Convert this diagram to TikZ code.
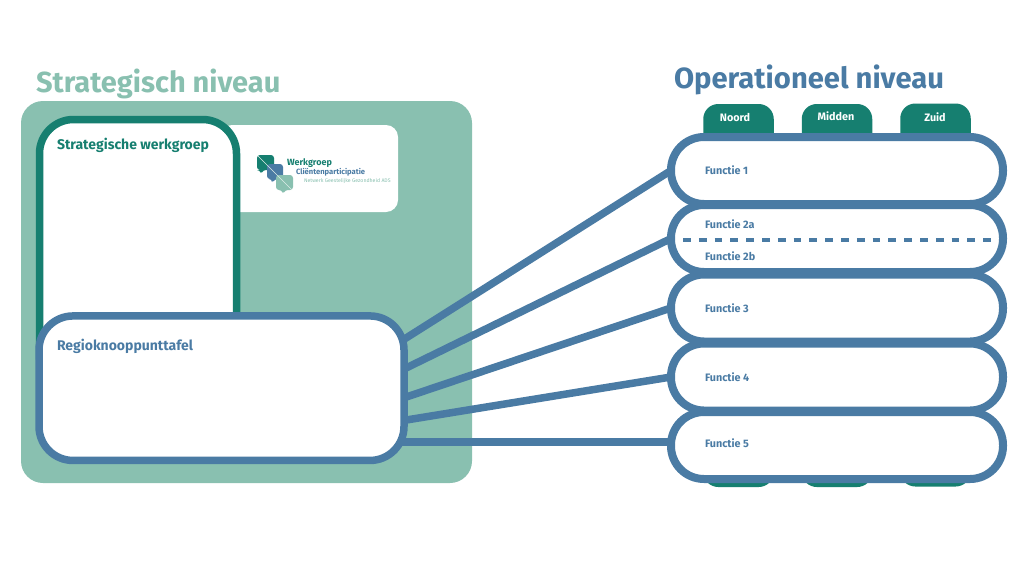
\documentclass[tikz,border=0pt]{standalone}
\usepackage{fontspec}
\setmainfont{Fira Sans}
\usepackage{tikz}
\definecolor{lichtgroen}{HTML}{89C0B0}
\definecolor{donkergroen}{HTML}{167F70}
\definecolor{staalblauw}{HTML}{4A7BA4}

\begin{document}
\begin{tikzpicture}[x=1pt,y=1pt]
	\tikzstyle{every node}+=[inner sep=0pt,outer sep=0pt]
	\tikzstyle{blok}=[draw,fill=white,line width=7.5pt,rounded corners=34pt]
	\tikzstyle{functie}=[blok,draw=staalblauw,line width=8pt,rounded corners=33pt,minimum width=332pt,minimum height=67pt]
	\tikzstyle{kolom}=[fill=donkergroen,rounded corners=15pt,minimum width=70.5pt,minimum height=383pt]
	\tikzstyle{lijn}=[draw=staalblauw,line width=7.5pt]
	\tikzstyle{functietekst}=[anchor=west,text=staalblauw,font=\fontsize{10.8}{13}\selectfont\bfseries]
	\tikzstyle{kolomtekst}=[text=white,font=\fontsize{10.8}{13}\selectfont\bfseries]
	\useasboundingbox (0,0) rectangle (1024,-586);
	\fill [white] (0,0) rectangle (1024,-586);

	\node [fill=lichtgroen,rounded corners=22pt,minimum width=451pt,minimum height=382pt] (paneel) at (246.5,-292) {};
	\node [fill=white,rounded corners=12pt,minimum width=178pt,minimum height=87pt] (logovlak) at (309,-168.5) {};
	\node [blok,draw=donkergroen,minimum width=197pt,minimum height=270pt] (werkgroep) at (138,-254.5) {};
	\node [blok,draw=staalblauw,minimum width=365pt,minimum height=144.5pt] (regio) at (221.5,-388.2) {};

	\node [anchor=west,text=lichtgroen,font=\fontsize{29}{34}\selectfont\bfseries] (titelstrategisch) at (36,-83.5) {Strategisch niveau};
	\node [anchor=west,text=staalblauw,font=\fontsize{29.2}{34}\selectfont\bfseries] (titeloperationeel) at (674,-79.5) {Operationeel niveau};
	\node [anchor=west,text=donkergroen,font=\fontsize{14}{17}\selectfont\bfseries] (werkgroeptekst) at (57,-145) {Strategische werkgroep};
	\node [anchor=west,text=staalblauw,font=\fontsize{14}{17}\selectfont\bfseries] (regiotekst) at (57,-346.5) {Regioknooppunttafel};

	\fill [donkergroen,rounded corners=3pt] (257,-155) -- (274,-155) -- (274,-170) -- (263,-170) -- (261,-174) -- (260,-170) -- (257,-170) -- cycle;
	\fill [staalblauw,rounded corners=3pt] (267,-164) -- (283,-164) -- (283,-179) -- (275,-179) -- (272,-183) -- (272,-179) -- (267,-179) -- cycle;
	\fill [lichtgroen,rounded corners=3pt] (276,-175) -- (293,-175) -- (293,-190) -- (285,-190) -- (283,-194) -- (282,-190) -- (276,-190) -- cycle;
	\draw [white!70!lichtgroen,line width=0.6pt] (258,-156) -- (292,-190);
	\node [anchor=west,text=donkergroen,font=\fontsize{9}{11}\selectfont\bfseries] (logoregel1) at (287,-163) {Werkgroep};
	\node [anchor=west,text=staalblauw,font=\fontsize{7.6}{10}\selectfont\bfseries] (logoregel2) at (296,-172.5) {Cliëntenparticipatie};
	\node [anchor=west,text=lichtgroen,font=\fontsize{5.2}{7}\selectfont] (logoregel3) at (304,-181) {Netwerk Geestelijke Gezondheid ADS};

	\node [kolom] (noord) at (738.5,-295.5) {};
	\node [kolom] (midden) at (837,-295.5) {};
	\node [kolom] (zuid) at (935.5,-295) {};
	\node [kolomtekst] (noordtekst) at (735,-117) {Noord};
	\node [kolomtekst] (middentekst) at (836,-116) {Midden};
	\node [kolomtekst] (zuidtekst) at (935,-117) {Zuid};

	\node [functie] (functie1) at (837,-170.5) {};
	\node [functie] (functie2) at (837,-238.5) {};
	\node [functie] (functie3) at (837,-308) {};
	\node [functie] (functie4) at (837,-377) {};
	\node [functie] (functie5) at (837,-445.5) {};

	\node [functietekst] (functie1tekst) at (705,-170) {Functie 1};
	\node [functietekst] (functie2atekst) at (705,-224.5) {Functie 2a};
	\node [functietekst] (functie2btekst) at (705,-256) {Functie 2b};
	\node [functietekst] (functie3tekst) at (705,-308) {Functie 3};
	\node [functietekst] (functie4tekst) at (705,-377) {Functie 4};
	\node [functietekst] (functie5tekst) at (705,-443.5) {Functie 5};

	\coordinate (streeplinks) at (683,-240);
	\coordinate (streeprechts) at (992,-240);
	\draw [staalblauw,line width=4pt,dash pattern=on 7.8pt off 8pt] (streeplinks) -- (streeprechts);
	\coordinate (regiovijf) at (402,-442);

	\draw [lijn] (regio.15.3) -- (functie1.west);
	\draw [lijn] (regio.6.6) -- (functie2.west);
	\draw [lijn] (regio.-3.8) -- (functie3.west);
	\draw [lijn] (regio.-10.5) -- (functie4.west);
	\draw [lijn] (regiovijf) -- (regiovijf -| functie5.west);
\end{tikzpicture}
\end{document}
